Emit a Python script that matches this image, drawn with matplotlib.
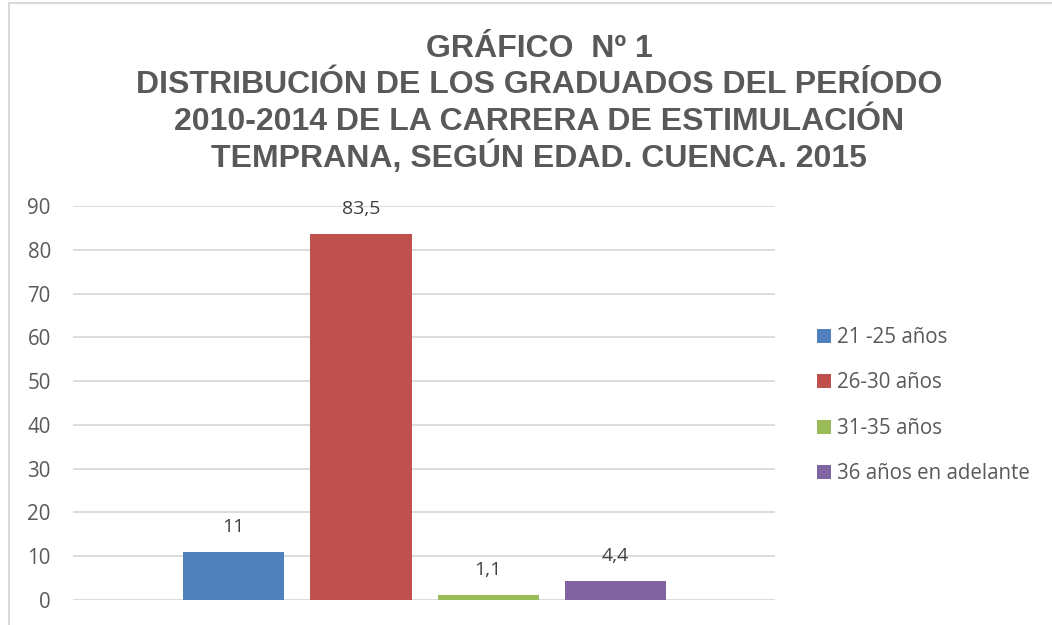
import matplotlib
matplotlib.use("Agg")
import matplotlib.pyplot as plt
from matplotlib.patches import Rectangle, Patch

# data
series = ["21 -25 años", "26-30 años", "31-35 años", "36 años en adelante"]
values = [11, 83.5, 1.1, 4.4]
colors = ["#4F81BD", "#C0504D", "#9BBB59", "#8064A2"]
yticks = [0, 10, 20, 30, 40, 50, 60, 70, 80, 90]
title_lines = ["GRÁFICO  Nº 1",
               "DISTRIBUCIÓN DE LOS GRADUADOS DEL PERÍODO",
               "2010-2014 DE LA CARRERA DE ESTIMULACIÓN",
               "TEMPRANA, SEGÚN EDAD. CUENCA. 2015"]

W, H = 1052, 625
txt = "#595959"
grid = "#D9D9D9"
lblfont = "Open Sans"

fig = plt.figure(figsize=(W / 100, H / 100), dpi=100)
ax = fig.add_axes([73 / W, 25 / H, 702 / W, 394 / H])

step = 1.257
xs = [i * step for i in range(len(values))]
ax.bar(xs, values, width=1.0, color=colors, zorder=3)
for x, v in zip(xs, values):
    ax.annotate(f"{v:g}".replace(".", ","), (x, v), xytext=(0, 18),
                textcoords="offset points", ha="center", va="center",
                fontsize=14, color="#404040", family=lblfont)

ax.set_xlim(-1.59, xs[-1] + 1.58)
ax.set_ylim(0, 90)
ax.set_yticks(yticks)
ax.set_xticks([])
ax.grid(axis="y", color=grid, lw=1.3, zorder=0)
for s in ax.spines.values():
    s.set_visible(False)
ax.tick_params(axis="y", length=0, pad=16, labelsize=14.8, labelcolor=txt)
for lab in ax.get_yticklabels():
    lab.set_family(lblfont)

# title
base = [57, 93, 130, 167]
for line, b in zip(title_lines, base):
    fig.text(539 / W, 1 - b / H, line, ha="center", va="baseline",
             fontsize=23, fontweight="bold", color=txt, family="Liberation Sans")

# legend
handles = [Patch(facecolor=c, edgecolor="none") for c in colors]
leg = fig.legend(handles, series, loc="upper left",
                 bbox_to_anchor=(817 / W, 1 - 327 / H), frameon=False,
                 prop={"family": lblfont, "size": 14.8}, labelcolor=txt,
                 handlelength=0.7, handleheight=0.7, handletextpad=0.25,
                 labelspacing=1.19, borderaxespad=0, borderpad=0)

# chart area border
fig.patches.append(Rectangle((9 / W, -0.1), 2, 1.1 - 3 / H, transform=fig.transFigure,
                             fill=False, edgecolor=grid, lw=1.5))

fig.savefig("out.png", dpi=100)
